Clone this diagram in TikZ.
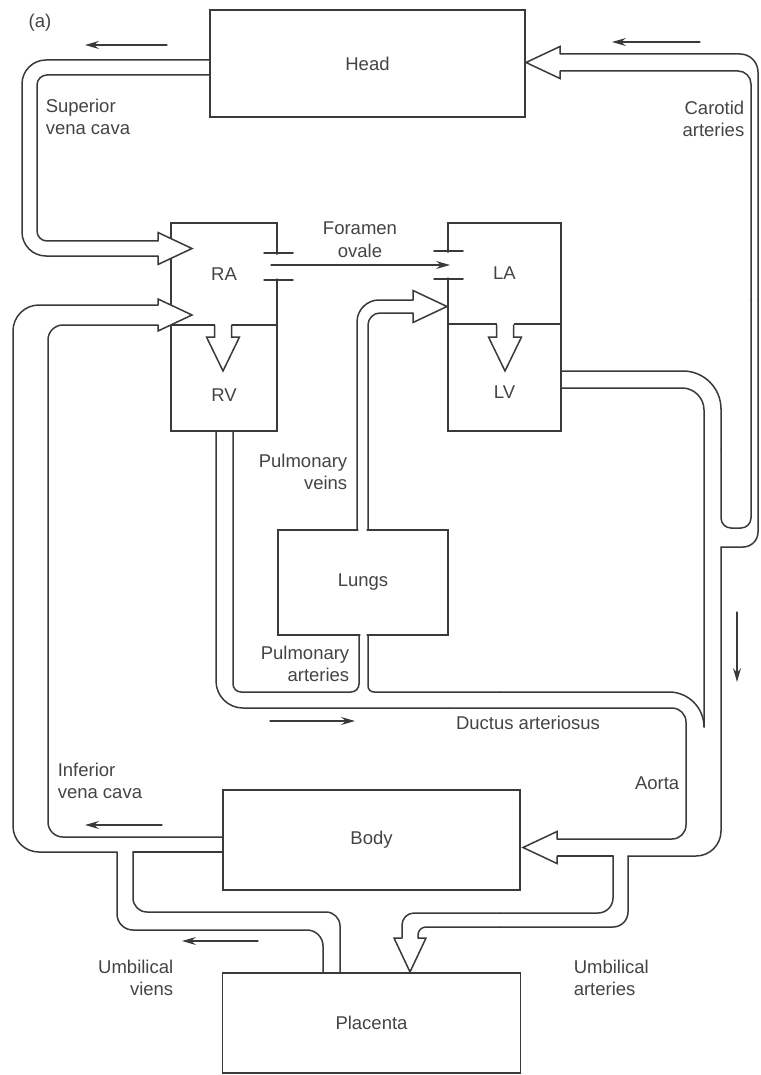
\documentclass[tikz,border=0pt]{standalone}
\usepackage{fontspec}
\setmainfont{Liberation Sans}
\usetikzlibrary{arrows.meta,positioning}
\definecolor{ink}{HTML}{3A3A3A}
\definecolor{txt}{HTML}{444444}

\begin{document}
\begin{tikzpicture}[x=1pt,y=-1pt,color=ink,line width=1.5pt,line cap=round,
  every node/.style={font=\fontsize{18.5}{22}\selectfont,text=txt},
  box/.style={draw=ink,inner sep=0pt,outer sep=0pt},
  lbl/.style={inner sep=0pt,align=left},
  flow/.style={-{Stealth[length=14pt,width=8pt,inset=5pt]},line width=1.2pt},
  ohead/.pic={\fill[white] (0,-16)--(34,0)--(0,16)--cycle;
    \draw (0,-#1)--(0,-16)--(34,0)--(0,16)--(0,#1);},
  valve/.pic={\fill[white] (-14,-8.5) rectangle (1,8.5);
    \fill[white] (0,-16.5)--(34,0)--(0,16.5)--cycle;
    \draw (-12,-8.5)--(0,-8.5)--(0,-16.5)--(34,0)--(0,16.5)--(0,8.5)--(-12,8.5);}]
\useasboundingbox[fill=white] (0,0) rectangle (760,1075);

\node[box,minimum width=315pt,minimum height=107pt] (head) at (367.5,63.5) {Head};
\node[box,minimum width=106pt,minimum height=102pt] (ra) at (224,274) {RA};
\node[box,minimum width=106pt,minimum height=106pt,below=0pt of ra] (rv) {};
\node[box,minimum width=113pt,minimum height=101pt] (la) at (504.5,273.5) {LA};
\node[box,minimum width=113pt,minimum height=107pt,below=0pt of la] (lv) {};
\node[box,minimum width=170pt,minimum height=105pt] (lungs) at (363,582.5) {Lungs};
\node[box,minimum width=297pt,minimum height=100pt] (body) at (371.5,840) {Body};
\node[box,minimum width=298pt,minimum height=100pt,below=83pt of body] (placenta) {Placenta};
\node[lbl] (rvtxt) at ([yshift=36pt]rv.south) {RV};
\node[lbl] (lvtxt) at ([yshift=39pt]lv.south) {LV};

\fill[white] (273,254.5) rectangle (281,278.5) (444,252.5) rectangle (452,277.5)
  (358.3,527) rectangle (366.7,533) (360.3,632) rectangle (366.7,638);
\draw (264,253) -- (293,253) (264,280) -- (293,280) (434,251) -- (463,251) (434,279) -- (463,279);
\draw[flow,shorten <=-6pt,shorten >=-2pt] (ra.east |- 0,265) -- (la.west |- 0,265);
\pic[rotate=-90] at (223,337) {valve};
\pic[rotate=-90] at (505,337) {valve};

\draw[rounded corners=24pt] (head.west |- 0,60) -- (22,60) -- (22,256) -- (158,256);
\draw[rounded corners=10pt] (head.west |- 0,75) -- (37,75) -- (37,241) -- (158,241);
\pic at (158,248.5) {ohead=7.5};

\draw[rounded corners=16pt] (placenta.north -| 323,0) -- (323,930) -- (117,930) -- (117,852);
\draw[rounded corners=26pt] (117,852) -- (13,852) -- (13,305) -- (158,305);
\draw[rounded corners=15pt] (body.west |- 0,837) -- (48,837) -- (48,325) -- (158,325);
\draw (body.west |- 0,852) -- (133,852);
\draw[rounded corners=14pt] (133,852) -- (133,912) -- (340,912) -- (placenta.north -| 340,0);
\pic at (158,315) {ohead=10};

\draw[rounded corners=22pt] (lungs.north -| 357,0) -- (357,300) -- (413,300);
\draw[rounded corners=12pt] (lungs.north -| 368,0) -- (368,313) -- (413,313);
\pic at (413,306.5) {ohead=6.5};

\draw[rounded corners=27pt] (rv.south -| 216,0) -- (216,708) -- (450,708);
\draw[rounded corners=14pt] (450,708) -- (686,708) -- (686,839) -- (557,839);
\draw[rounded corners=8pt] (rv.south -| 233,0) -- (233,692) -- (359,692) -- (lungs.south -| 359,0);
\draw[rounded corners=6pt] (lungs.south -| 368,0) -- (368,692) -- (500,692);
\draw[rounded corners=35pt] (500,692) -- (704,692) -- (704,727);

\draw[rounded corners=22pt] (lv.east |- 0,388) -- (704,388) -- (704,727);
\draw[rounded corners=38pt] (lv.east |- 0,371) -- (721,371) -- (721,450);
\draw[rounded corners=10pt] (721,450) -- (721,528) -- (751,528) -- (751,300);
\draw[rounded corners=13pt] (751,300) -- (751,71) -- (560,71);
\draw[rounded corners=18pt] (560,54) -- (758,54) -- (758,300);
\draw[rounded corners=15pt] (758,300) -- (758,547) -- (721,547);
\draw[rounded corners=25pt] (721,547) -- (721,856) -- (628,856);
\draw[rounded corners=15pt] (628,856) -- (628,927) -- (500,927);
\draw[rounded corners=8pt] (500,927) -- (418,927) -- (418,938);
\draw (557,856) -- (613,856);
\draw[rounded corners=15pt] (613,856) -- (613,913) -- (500,913);
\draw[rounded corners=12pt] (500,913) -- (402,913) -- (402,938);
\pic[rotate=180] at (560,62.5) {ohead=8.5};
\pic[rotate=180] at (557,847.5) {ohead=8.5};
\pic[rotate=-90] at (410,938) {ohead=8};

\draw[flow] (167,45) -- (85,45);
\draw[flow] (700,42) -- (612,42);
\draw[flow] (737,612) -- (737,682);
\draw[flow] (270,721) -- (355,721);
\draw[flow] (162,825) -- (85,825);
\draw[flow] (258,941) -- (182,941);

\node[lbl] (tag) at (40,23) {(a)};
\node[lbl,anchor=base west] (svc) at (45,135) {Superior\\vena cava};
\node[lbl,align=right,anchor=base east] (car) at (745,137) {Carotid\\arteries};
\node[lbl,align=center,anchor=base] (fo) at (360,257) {Foramen\\ovale};
\node[lbl,align=right,anchor=base east] (pv) at (348,489) {Pulmonary\\veins};
\node[lbl,align=right,anchor=base east] (pa) at (350,681) {Pulmonary\\arteries};
\node[lbl,anchor=base] (da) at (528,729) {Ductus arteriosus};
\node[lbl,anchor=base east] (ao) at (680,789) {Aorta};
\node[lbl,anchor=base west] (ivc) at (57,798) {Inferior\\vena cava};
\node[lbl,align=right,anchor=base east] (uv) at (174,995) {Umbilical\\viens};
\node[lbl,anchor=base west] (ua) at (573,995) {Umbilical\\arteries};
\end{tikzpicture}
\end{document}
